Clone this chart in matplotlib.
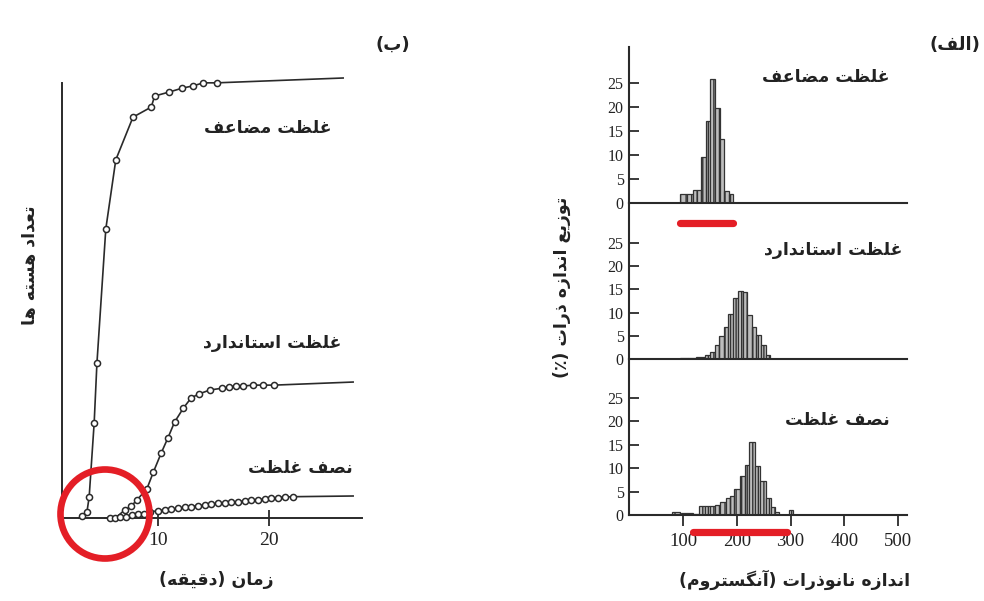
import numpy as np
import matplotlib
matplotlib.use("Agg")
import matplotlib.pyplot as plt
from matplotlib.patches import Ellipse

# ---- left panel (ب): number of nuclei vs time (min) ----
double_t = [3.15, 3.6, 3.8, 4.25, 4.5, 5.3, 6.2, 7.75, 9.4, 9.7, 11.0, 12.2, 13.15, 14.1, 15.3]
double_y = [0.4, 1.4, 4.8, 21.6, 35.2, 65.7, 81.4, 91.1, 93.4, 95.9, 96.8, 97.7, 98.2, 98.9, 98.9]
double_start = (2.85, 0.0)
double_end = (26.7, 100.0)

std_t = [7.0, 7.6, 8.1, 9.0, 9.6, 10.3, 10.9, 11.5, 12.3, 13.0, 13.7, 14.7, 15.8, 16.4,
         17.0, 17.7, 18.6, 19.5, 20.5]
std_y = [1.8, 2.7, 4.1, 6.6, 10.5, 14.8, 18.2, 21.8, 25.0, 27.3, 28.2, 29.1, 29.5, 29.8,
         30.0, 30.0, 30.2, 30.2, 30.2]
std_start = (6.4, 0.5)
std_end = (27.6, 30.9)

half_t = [5.68, 6.13, 6.58, 7.12, 7.66, 8.2, 8.74, 9.28, 10.0, 10.63, 11.17, 11.8, 12.43,
          12.97, 13.6, 14.23, 14.77, 15.41, 16.04, 16.58, 17.21, 17.84, 18.38, 19.01,
          19.64, 20.18, 20.81, 21.44, 22.16]
half_y = [0.0, 0.1, 0.2, 0.3, 0.57, 0.8, 1.02, 1.36, 1.66, 1.82, 1.98, 2.2, 2.43, 2.57,
          2.8, 2.95, 3.18, 3.34, 3.48, 3.57, 3.7, 3.86, 4.02, 4.16, 4.32, 4.48, 4.61,
          4.77, 4.84]
half_start = (5.2, 0.0)
half_end = (27.6, 5.0)

time_ticks = [10, 20]

# ---- right panel (الف): size distributions (%) vs size (angstrom) ----
top_edges = [94, 107, 118, 126, 133, 143, 151, 160, 169, 177, 185, 193]
top_heights = [1.8, 1.8, 2.8, 2.8, 9.5, 17, 25.8, 19.8, 13.3, 2.6, 1.8]

mid_edges = [95, 110, 125, 140, 150, 159.5, 167.6, 176.3, 184.4, 193.6, 201.7, 211,
             219.7, 227.8, 235.8, 244.5, 254.4, 262]
mid_heights = [0.3, 0.2, 0.4, 0.8, 1.6, 3.0, 5.0, 6.8, 9.8, 13.1, 14.7, 14.4, 9.5, 7.0,
               5.2, 3.0, 0.9]

bot_edges = [79, 94, 97, 108, 119, 130, 140, 150, 160, 169, 180, 187, 195, 206, 215,
             223.5, 234, 243.5, 254.5, 263, 271, 279, 297, 305]
bot_heights = [0.6, 0.0, 0.5, 0.4, 0.2, 1.9, 1.9, 2.0, 2.1, 2.8, 3.6, 4.1, 5.6, 8.3,
               10.7, 15.7, 10.5, 7.3, 3.7, 1.8, 0.7, 0.0, 1.0]

pct_ticks = [0, 5, 10, 15, 20, 25]
size_ticks = [100, 200, 300, 400, 500]

top_range = (94, 193)   # red bar under double
bot_range = (118, 293)  # red bar under half

# text
lbl_double = "غلظت مضاعف"
lbl_std = "غلظت استاندارد"
lbl_half = "نصف غلظت"
lbl_time = "زمان (دقیقه)"
lbl_count = "تعداد هسته ها"
lbl_size = "اندازه نانوذرات (آنگستروم)"
lbl_dist = "توزیع اندازه ذرات (٪)"
lbl_a = "(الف)"
lbl_b = "(ب)"

# --- minimal arabic shaping (matplotlib has no bidi/shaping) ---
FORMS = {
    "ا": ("\uFE8D", "\uFE8E", None, None),
    "آ": ("\uFE81", "\uFE82", None, None),
    "ب": ("\uFE8F", "\uFE90", "\uFE91", "\uFE92"),
    "ت": ("\uFE95", "\uFE96", "\uFE97", "\uFE98"),
    "د": ("\uFEA9", "\uFEAA", None, None),
    "ذ": ("\uFEAB", "\uFEAC", None, None),
    "ر": ("\uFEAD", "\uFEAE", None, None),
    "ز": ("\uFEAF", "\uFEB0", None, None),
    "س": ("\uFEB1", "\uFEB2", "\uFEB3", "\uFEB4"),
    "ص": ("\uFEB9", "\uFEBA", "\uFEBB", "\uFEBC"),
    "ض": ("\uFEBD", "\uFEBE", "\uFEBF", "\uFEC0"),
    "ظ": ("\uFEC5", "\uFEC6", "\uFEC7", "\uFEC8"),
    "ع": ("\uFEC9", "\uFECA", "\uFECB", "\uFECC"),
    "غ": ("\uFECD", "\uFECE", "\uFECF", "\uFED0"),
    "ف": ("\uFED1", "\uFED2", "\uFED3", "\uFED4"),
    "ق": ("\uFED5", "\uFED6", "\uFED7", "\uFED8"),
    "ل": ("\uFEDD", "\uFEDE", "\uFEDF", "\uFEE0"),
    "م": ("\uFEE1", "\uFEE2", "\uFEE3", "\uFEE4"),
    "ن": ("\uFEE5", "\uFEE6", "\uFEE7", "\uFEE8"),
    "ه": ("\uFEE9", "\uFEEA", "\uFEEB", "\uFEEC"),
    "و": ("\uFEED", "\uFEEE", None, None),
    "ی": ("\uFBFC", "\uFBFD", "\uFBFE", "\uFBFF"),
    "گ": ("\uFB92", "\uFB93", "\uFB94", "\uFB95"),
}


def fa(text):
    out = []
    for i, ch in enumerate(text):
        if ch not in FORMS:
            out.append(ch)
            continue
        iso, fin, ini, med = FORMS[ch]
        prev = text[i - 1] if i > 0 else ""
        nxt = text[i + 1] if i + 1 < len(text) else ""
        jp = prev in FORMS and FORMS[prev][2] is not None
        jn = ini is not None and nxt in FORMS
        if jp and jn:
            out.append(med)
        elif jp:
            out.append(fin)
        elif jn:
            out.append(ini)
        else:
            out.append(iso)
    mirror = {"(": ")", ")": "("}
    return "".join(mirror.get(c, c) for c in reversed(out))


plt.rcParams["font.family"] = ["Liberation Serif", "DejaVu Serif"]
AR = dict(family=["DejaVu Sans"], fontweight="bold", color="#222222")
RED = "#e41e26"
INK = "#2a2a2a"

fig = plt.figure(figsize=(9.84, 6.01), dpi=100)
W, H = 984, 601


def px_axes(left, top, right, bottom):
    return fig.add_axes([left / W, 1 - bottom / H, (right - left) / W, (bottom - top) / H])


# ---------------- left panel ----------------
ax = px_axes(62, 73.6, 362, 518)
ax.set_xlim(1.35, 28.4)
ax.set_ylim(0, 101)
for s in ["top", "right"]:
    ax.spines[s].set_visible(False)
ax.spines["left"].set_bounds(0, 98.9)
for s in ["left", "bottom"]:
    ax.spines[s].set_color(INK)
    ax.spines[s].set_linewidth(1.4)
ax.set_yticks([])
ax.set_xticks(time_ticks)
ax.tick_params(axis="x", direction="inout", length=12, width=1.3, color=INK,
               labelsize=14, pad=4, labelcolor="#222222")

curves = [
    (double_t, double_y, double_start, double_end),
    (std_t, std_y, std_start, std_end),
    (half_t, half_y, half_start, half_end),
]
for tt, yy, st, en in curves:
    lx = [st[0]] + list(tt) + [en[0]]
    ly = [st[1]] + list(yy) + [en[1]]
    ax.plot(lx, ly, color=INK, lw=1.2, clip_on=False, zorder=2)
    ax.plot(tt, yy, "o", ms=4.4, mfc="white", mec=INK, mew=1.1, clip_on=False, zorder=3)

ax.text(19.9, 88.6, fa(lbl_double), ha="center", va="center", fontsize=12.5, **AR)
ax.text(20.3, 39.8, fa(lbl_std), ha="center", va="center", fontsize=12.5, **AR)
ax.text(22.8, 11.4, fa(lbl_half), ha="center", va="center", fontsize=12.5, **AR)

fig.text(216 / W, 1 - 580 / H, fa(lbl_time), ha="center", va="center", fontsize=12.5, **AR)
fig.text(30 / W, 1 - 265 / H, fa(lbl_count), ha="center", va="center", rotation=90,
         fontsize=12.5, **AR)
fig.text(393 / W, 1 - 45 / H, fa(lbl_b), ha="center", va="center", fontsize=13, **AR)

# red circle around the early region
fig.add_artist(Ellipse((105 / W, 1 - 514 / H), 89 / W, 89 / H, transform=fig.transFigure,
                       fill=False, edgecolor=RED, lw=4.8, zorder=10))

# ---------------- right panel ----------------
panels = [
    (47, 203, top_edges, top_heights, lbl_double, 366, 26.25),
    (203, 359, mid_edges, mid_heights, lbl_std, 379, 23.5),
    (359, 515, bot_edges, bot_heights, lbl_half, 388, 20.3),
]
scales = [4.8, 4.64, 4.68]
hax = []
for (top, base, edges, heights, lbl, lx, ly), sc in zip(panels, scales):
    a = px_axes(629.25, top, 907, base)
    a.set_xlim(0, (907 - 629.25) / 0.5375)
    a.set_ylim(0, (base - top) / sc)
    a.patch.set_alpha(0)
    for s in ["top", "right"]:
        a.spines[s].set_visible(False)
    for s in ["left", "bottom"]:
        a.spines[s].set_color(INK)
        a.spines[s].set_linewidth(1.5)
    e = np.array(edges, dtype=float)
    a.bar(e[:-1], heights, width=np.diff(e), align="edge", facecolor="#bdbdbd",
          edgecolor="#333333", linewidth=0.9, hatch="|||", zorder=2)
    a.set_yticks(pct_ticks)
    a.tick_params(axis="y", direction="in", length=7, width=1.3, color=INK,
                  labelsize=11.5, pad=4, labelcolor="#222222")
    a.set_xticks([])
    a.text(lx, ly, fa(lbl), ha="center", va="center", fontsize=12.5, **AR)
    hax.append(a)

hax[2].set_xticks(size_ticks)
hax[2].tick_params(axis="x", direction="out", length=8, width=1.3, color=INK,
                   labelsize=13.5, pad=5, labelcolor="#222222")

# red bars marking the size range
hax[0].plot(top_range, [-4.2, -4.2], color=RED, lw=5.2, solid_capstyle="round",
            clip_on=False, zorder=5)
hax[2].plot(bot_range, [-3.6, -3.6], color=RED, lw=5.2, solid_capstyle="round",
            clip_on=False, zorder=5)

fig.text(795 / W, 1 - 580 / H, fa(lbl_size), ha="center", va="center", fontsize=12.5, **AR)
fig.text(562 / W, 1 - 287 / H, fa(lbl_dist), ha="center", va="center", rotation=90,
         fontsize=12.5, **AR)
fig.text(955 / W, 1 - 45 / H, fa(lbl_a), ha="center", va="center", fontsize=13, **AR)

fig.savefig("out.png", dpi=100, facecolor="white")
